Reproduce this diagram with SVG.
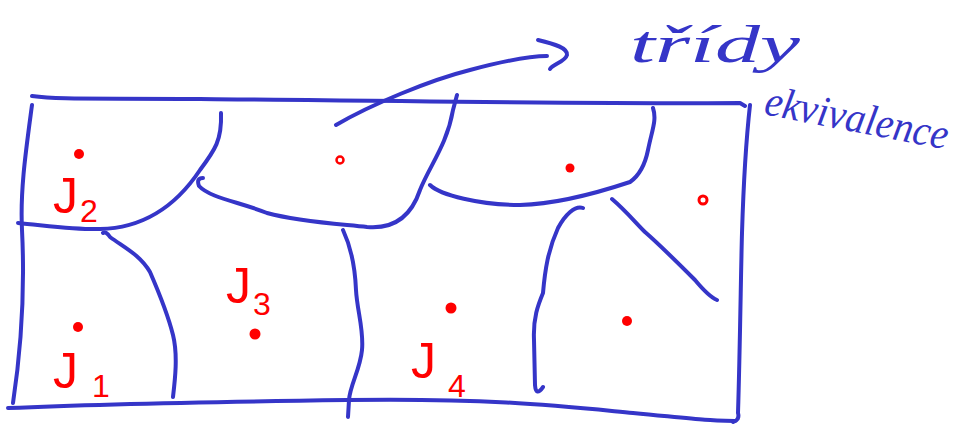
<svg xmlns="http://www.w3.org/2000/svg" width="975" height="425" viewBox="0 0 975 425">
<style>
.ln{fill:none;stroke:#3535c8;stroke-width:4;stroke-linecap:round;stroke-linejoin:round}
.pt{fill:#f00}
.lab{fill:#f00;font-family:"Liberation Sans","DejaVu Sans",sans-serif}
.note{fill:#3535c8;font-family:"Liberation Serif","DejaVu Serif",serif;font-style:italic}
</style>
<rect width="975" height="425" fill="#fff"/>
<g id="connectors">
<path class="ln" d="M32,96 C60,100 100,98 200,99 S600,104 740,103 l5,3"/>
<path class="ln" d="M32,105 C26,150 20,190 22,230 S24,330 13,403"/>
<path class="ln" d="M8,408 C100,404 200,402 347,400 S560,406 633,413 S700,420 735,421"/>
<path class="ln" d="M750,105 C745,150 743,200 742,233 S740,350 738,413 Q740,420 733,422"/>
<path class="ln" d="M18,223 C50,226 80,230 100,229 C150,228 180,200 200,170 C215,150 222,140 221,113"/>
<path class="ln" d="M203,178 Q196,178 199,186 C210,198 240,202 267,213 C300,222 340,224 367,227 C390,229 410,220 420,190 C430,165 447,145 453,110 L457,95"/>
<path class="ln" d="M430,185 C440,195 480,205 520,205 C560,204 600,192 630,182 C640,175 645,165 648,150 C652,130 657,120 653,108"/>
<path class="ln" d="M583,208 C575,205 565,215 558,228 C548,250 545,270 543,293 C538,305 533,318 534,340 L535,385 Q536,397 543,387"/>
<path class="ln" d="M612,199 C625,210 635,222 645,232 C660,245 680,265 695,280 C705,292 712,298 717,300"/>
<path class="ln" d="M103,233 Q106,231 110,237 C125,248 140,255 150,272 C160,295 168,315 173,335 C178,355 175,380 173,397"/>
<path class="ln" d="M343,230 C350,245 355,265 356,290 C357,310 364,330 362,350 C360,370 350,385 349,400 L348,417"/>
<path class="ln" d="M336,125 C370,105 430,80 470,70 C500,62 530,56 547,56"/>
<path class="ln" d="M538,40 C555,44 568,48 567,55 C565,62 553,64 550,69"/>
</g>
<g id="points">
<circle class="pt" cx="79" cy="154" r="5"/>
<circle cx="340" cy="160" r="3.5" fill="none" stroke="#f00" stroke-width="2.5"/>
<circle class="pt" cx="570" cy="168" r="4.5"/>
<circle cx="703" cy="200" r="4" fill="none" stroke="#f00" stroke-width="3"/>
<circle class="pt" cx="78" cy="327" r="5"/>
<circle class="pt" cx="255" cy="334" r="5.5"/>
<circle class="pt" cx="451" cy="308" r="5.5"/>
<circle class="pt" cx="627" cy="321" r="5"/>
</g>
<g id="label-J2"><text class="lab" x="53" y="213" font-size="50">J<tspan font-size="32" dx="2" dy="9">2</tspan></text></g>
<g id="label-J3"><text class="lab" x="226" y="303" font-size="50">J<tspan font-size="32" dx="2" dy="12">3</tspan></text></g>
<g id="label-J1"><text class="lab" x="53" y="388" font-size="50">J<tspan font-size="32" dx="14" dy="9">1</tspan></text></g>
<g id="label-J4"><text class="lab" x="411" y="378" font-size="50">J<tspan font-size="32" dx="12" dy="19">4</tspan></text></g>
<g id="label-classes">
<text class="note" x="630" y="62" font-size="52" textLength="170" lengthAdjust="spacingAndGlyphs">třídy</text>
<text class="note" x="763" y="114" font-size="43" textLength="186" lengthAdjust="spacingAndGlyphs" transform="rotate(11 763 114)">ekvivalence</text>
</g>
</svg>
